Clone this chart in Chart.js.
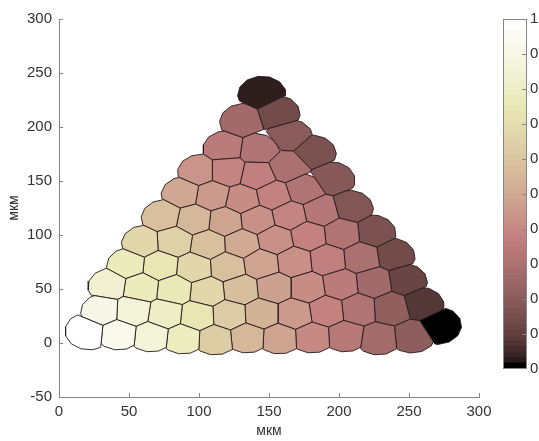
<!DOCTYPE html>
<html>
<head>
<meta charset="utf-8">
<script src="https://cdn.jsdelivr.net/npm/chart.js@4.4.1/dist/chart.umd.min.js"></script>
<style>
  html, body { margin: 0; padding: 0; background: #ffffff; }
  #wrap { position: relative; width: 539px; height: 441px; overflow: hidden; }
  #main { position: absolute; left: 0; top: 0; }
  #cbar { position: absolute; left: 495px; top: 0; }
</style>
</head>
<body>
<div id="wrap">
  <canvas id="main" width="539" height="441"></canvas>
  <canvas id="cbar" width="44" height="441"></canvas>
</div>
<script>
// Grain centres (µm), listed row by row from the base of the triangle upward
const siteX = [
  18.6, 42.9, 65.9, 88.8, 111.7, 134.6, 157.5, 181.1, 204.7, 228.3, 252.7, 273.4,
  30.1, 53.0, 75.9, 98.8, 121.7, 144.6, 168.2, 191.1, 214.0, 236.9, 259.8,
  35.1, 58.7, 82.3, 105.9, 129.6, 153.9, 177.5, 201.1, 224.8, 248.4,
  48.7, 72.3, 96.6, 120.3, 144.6, 168.2, 191.8, 216.2, 239.8,
  58.7, 82.3, 106.7, 130.3, 154.6, 178.2, 201.9, 226.2,
  73.7, 96.6, 118.8, 141.7, 164.6, 186.8, 209.7,
  88.0, 109.5, 131.0, 153.2, 174.7, 196.1,
  98.8, 120.3, 141.7, 163.2, 183.2,
  118.1, 142.4, 165.3,
  128.8, 158.2,
  145.3
];
const siteY = [
  9.4, 7.5, 5.7, 3.8, 2.9, 4.7, 3.8, 4.7, 5.7, 2.9, 4.7, 15.0,
  30.7, 29.8, 27.0, 25.2, 26.1, 27.0, 27.0, 29.8, 31.7, 32.6, 37.2,
  53.9, 51.2, 49.3, 47.4, 49.3, 51.2, 51.2, 53.9, 55.8, 58.6,
  73.4, 71.6, 69.7, 70.7, 73.4, 75.3, 77.2, 79.0, 81.8,
  92.9, 93.9, 91.1, 92.0, 95.7, 99.4, 101.3, 103.2,
  118.0, 114.3, 112.4, 114.3, 118.0, 121.7, 126.4,
  139.4, 136.6, 132.9, 136.6, 142.2, 153.3,
  158.9, 158.9, 155.2, 162.6, 177.4,
  182.1, 179.3, 193.2,
  205.3, 212.7,
  233.1
];
// Normalised value carried by each grain (0..1)
const grainValue = [
  1.00, 0.93, 0.86, 0.78, 0.63, 0.55, 0.48, 0.40, 0.33, 0.27, 0.20, 0.00,
  0.91, 0.86, 0.80, 0.74, 0.62, 0.53, 0.45, 0.38, 0.31, 0.21, 0.07,
  0.84, 0.77, 0.76, 0.67, 0.57, 0.47, 0.41, 0.35, 0.26, 0.11,
  0.77, 0.74, 0.67, 0.58, 0.48, 0.42, 0.37, 0.29, 0.13,
  0.67, 0.64, 0.58, 0.50, 0.42, 0.38, 0.31, 0.15,
  0.58, 0.55, 0.48, 0.42, 0.39, 0.32, 0.17,
  0.49, 0.45, 0.41, 0.38, 0.31, 0.18,
  0.43, 0.39, 0.37, 0.29, 0.15,
  0.35, 0.31, 0.19,
  0.26, 0.13,
  0.02
];
const xTicks = [0, 50, 100, 150, 200, 250, 300];
const yTicks = [-50, 0, 50, 100, 150, 200, 250, 300];
const cbTicks = [0, 0.1, 0.2, 0.3, 0.4, 0.5, 0.6, 0.7, 0.8, 0.9, 1];
const axisLabel = 'мкм';

// "pink" colour map: sqrt((2*gray + hot)/3)
function pinkRGB(t) {
  t = Math.max(0, Math.min(1, t));
  const hr = Math.min(1, t * 8 / 3);
  const hg = Math.max(0, Math.min(1, t * 8 / 3 - 1));
  const hb = Math.max(0, Math.min(1, t * 4 - 3));
  const c = h => Math.round(255 * Math.sqrt((2 * t + h) / 3));
  return 'rgb(' + c(hr) + ',' + c(hg) + ',' + c(hb) + ')';
}

// Voronoi cells of the grains. Cells on the rim are closed by a polygonal
// arc that reaches RIM_R beyond the centre on the outer side.
const RIM_R = 14;
const RIM_SHIFT = 3.5;
const SIDES = 13;
const NEAR = 34;
function clipHalf(poly, nx, ny, c) {
  const out = [];
  for (let k = 0; k < poly.length; k++) {
    const p = poly[k], q = poly[(k + 1) % poly.length];
    const fp = p[0] * nx + p[1] * ny - c;
    const fq = q[0] * nx + q[1] * ny - c;
    if (fp <= 0) out.push(p);
    if ((fp < 0 && fq > 0) || (fp > 0 && fq < 0)) {
      const s = fp / (fp - fq);
      out.push([p[0] + s * (q[0] - p[0]), p[1] + s * (q[1] - p[1])]);
    }
  }
  return out;
}
function grainCell(i) {
  const sx = siteX[i], sy = siteY[i];
  // outward direction: away from the mean of the nearby grains
  let mx = 0, my = 0, cnt = 0;
  for (let j = 0; j < siteX.length; j++) {
    if (j === i) continue;
    const d = Math.hypot(siteX[j] - sx, siteY[j] - sy);
    if (d < NEAR) { mx += siteX[j]; my += siteY[j]; cnt++; }
  }
  mx /= cnt; my /= cnt;
  let ux = sx - mx, uy = sy - my;
  const off = Math.hypot(ux, uy);
  let cx = sx, cy = sy, r = 40;
  if (off > 4) {
    ux /= off; uy /= off;
    cx = sx - RIM_SHIFT * ux; cy = sy - RIM_SHIFT * uy;
    r = RIM_R + RIM_SHIFT;
  }
  let poly = [];
  const a0 = Math.atan2(uy, ux);
  for (let k = 0; k < SIDES; k++) {
    const a = a0 + Math.PI / SIDES + 2 * Math.PI * k / SIDES;
    poly.push([cx + r * Math.cos(a), cy + r * Math.sin(a)]);
  }
  for (let j = 0; j < siteX.length; j++) {
    if (j === i) continue;
    const dx = siteX[j] - sx, dy = siteY[j] - sy;
    if (dx * dx + dy * dy > 6400) continue;
    const hx = (sx + siteX[j]) / 2, hy = (sy + siteY[j]) / 2;
    poly = clipHalf(poly, dx, dy, hx * dx + hy * dy);
  }
  const pts = poly.map(p => ({ x: p[0], y: p[1] }));
  pts.push({ x: poly[0][0], y: poly[0][1] });
  return pts;
}

const grainSets = siteX.map((_, i) => ({
  data: grainCell(i),
  showLine: true,
  fill: 'shape',
  backgroundColor: pinkRGB(grainValue[i]),
  borderColor: 'rgba(38,26,26,0.9)',
  borderWidth: 1,
  borderJoinStyle: 'round',
  pointRadius: 0,
  tension: 0
}));

const FONT = '"Liberation Sans", Arial, Helvetica, sans-serif';
const AXIS_GREY = '#858585';
const TEXT_GREY = '#333333';

const inwardTicks = {
  id: 'inwardTicks',
  afterDraw(chart) {
    const { ctx, chartArea: a } = chart;
    const sx = chart.scales.x, sy = chart.scales.y;
    ctx.save();
    ctx.strokeStyle = AXIS_GREY;
    ctx.lineWidth = 1;
    ctx.beginPath();
    xTicks.forEach(v => {
      const px = Math.round(sx.getPixelForValue(v)) + 0.5;
      ctx.moveTo(px, a.bottom);
      ctx.lineTo(px, a.bottom - 4);
    });
    yTicks.forEach(v => {
      const py = Math.round(sy.getPixelForValue(v)) + 0.5;
      ctx.moveTo(a.left, py);
      ctx.lineTo(a.left + 4, py);
    });
    ctx.stroke();
    ctx.restore();
  }
};

new Chart(document.getElementById('main'), {
  type: 'scatter',
  data: { datasets: grainSets },
  options: {
    responsive: false,
    animation: false,
    events: [],
    layout: { padding: { top: 19, right: 60, left: 0, bottom: 0 } },
    plugins: { legend: { display: false }, tooltip: { enabled: false } },
    scales: {
      x: {
        type: 'linear', min: 0, max: 300,
        afterBuildTicks: s => { s.ticks = xTicks.map(v => ({ value: v })); },
        afterFit: s => { s.height = 44; },
        grid: { display: false, drawTicks: false },
        border: { display: true, color: AXIS_GREY, width: 1 },
        ticks: { padding: 6, color: TEXT_GREY, autoSkip: false, maxRotation: 0,
                 font: { family: FONT, size: 15 } },
        title: { display: true, text: axisLabel, color: TEXT_GREY,
                 font: { family: FONT, size: 14 }, padding: { top: 0, bottom: 1 } }
      },
      y: {
        type: 'linear', min: -50, max: 300,
        afterBuildTicks: s => { s.ticks = yTicks.map(v => ({ value: v })); },
        afterFit: s => { s.width = 59; },
        grid: { display: false, drawTicks: false },
        border: { display: true, color: AXIS_GREY, width: 1 },
        ticks: { padding: 7, color: TEXT_GREY, autoSkip: false,
                 font: { family: FONT, size: 15 } },
        title: { display: true, text: axisLabel, color: TEXT_GREY,
                 font: { family: FONT, size: 14 }, padding: { top: 6, bottom: 0 } }
      }
    }
  },
  plugins: [inwardTicks]
});

// Colour bar: 64 stacked bands of the same map
const LEVELS = 64;
const bandSets = [];
for (let k = 0; k < LEVELS; k++) {
  bandSets.push({
    data: [[k / LEVELS, Math.min(1, (k + 1) / LEVELS + 0.002)]],
    backgroundColor: pinkRGB(k / (LEVELS - 1)),
    borderWidth: 0,
    grouped: false,
    barPercentage: 1,
    categoryPercentage: 1
  });
}
const barFrame = {
  id: 'barFrame',
  afterDraw(chart) {
    const { ctx, chartArea: a } = chart;
    const sy = chart.scales.y;
    ctx.save();
    ctx.strokeStyle = AXIS_GREY;
    ctx.lineWidth = 1;
    ctx.strokeRect(a.left + 0.5, a.top + 0.5, a.right - a.left - 1, a.bottom - a.top - 1);
    ctx.beginPath();
    cbTicks.forEach(v => {
      if (v === 0 || v === 1) return;
      const py = Math.round(sy.getPixelForValue(v)) + 0.5;
      ctx.moveTo(a.right - 1, py);
      ctx.lineTo(a.right - 5, py);
    });
    ctx.stroke();
    ctx.restore();
  }
};
new Chart(document.getElementById('cbar'), {
  type: 'bar',
  data: { labels: [''], datasets: bandSets },
  options: {
    responsive: false,
    animation: false,
    events: [],
    layout: { padding: { top: 19, bottom: 72, left: 8, right: 0 } },
    plugins: { legend: { display: false }, tooltip: { enabled: false } },
    scales: {
      x: { display: false },
      y: {
        position: 'right', min: 0, max: 1,
        afterBuildTicks: s => { s.ticks = cbTicks.map(v => ({ value: v })); },
        afterFit: s => { s.width = 12; },
        grid: { display: false, drawTicks: false },
        border: { display: false },
        ticks: { padding: 3, color: TEXT_GREY, autoSkip: false,
                 font: { family: FONT, size: 15 },
                 callback: v => (v === 0 || v === 1) ? String(v) : v.toFixed(1) }
      }
    }
  },
  plugins: [barFrame]
});
</script>
</body>
</html>
